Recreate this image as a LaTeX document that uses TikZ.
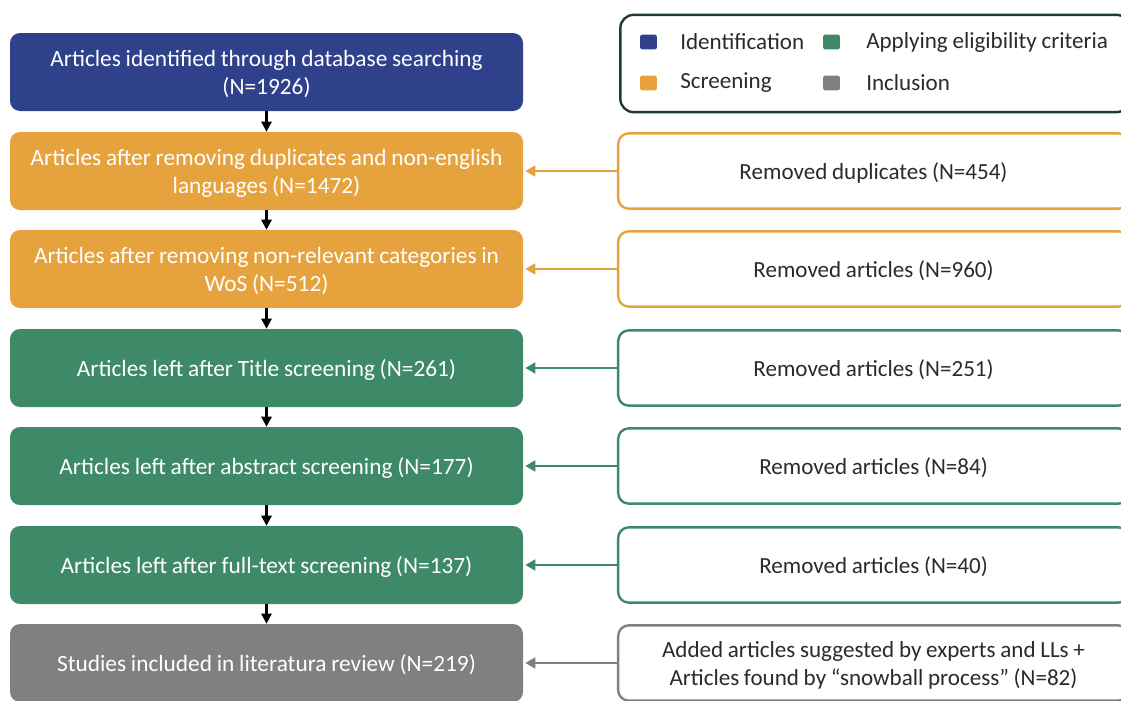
\documentclass[tikz,border=0pt]{standalone}
\usepackage{fontspec}
\setmainfont[WordSpace=0.9]{Carlito}
\usetikzlibrary{arrows.meta}
\definecolor{idblue}{HTML}{2E418A}
\definecolor{scrorange}{HTML}{E6A23C}
\definecolor{eligreen}{HTML}{3E8A68}
\definecolor{incgray}{HTML}{808080}
\definecolor{legframe}{HTML}{1E3B2C}
\definecolor{txtdark}{HTML}{2B2B2B}
\tikzset{
  stagebox/.style={rounded corners=7.5pt, minimum width=384.75pt, minimum height=58.5pt,
    align=center, text=white, font=\fontsize{17.5}{21}\selectfont, inner sep=0pt, text depth=0pt},
  sidebox/.style={rounded corners=8pt, fill=white, line width=1.8pt, minimum width=383pt,
    minimum height=56.5pt, align=center, text=txtdark,
    font=\fontsize{17.3}{21}\selectfont, inner sep=0pt, text depth=0pt},
  flow/.style={line width=2pt, -{Triangle[length=7.5pt,width=7.5pt]}},
  feed/.style={line width=2pt, -{Triangle[length=7.5pt,width=8pt]}, shorten >=1.5pt},
  legsq/.style={rounded corners=1.5pt, minimum width=12.5pt, minimum height=11pt, inner sep=0pt},
  legtxt/.style={anchor=west, text=txtdark, font=\fontsize{17.3}{20}\selectfont, inner sep=0pt},
}
\begin{document}
\begin{tikzpicture}[x=0.75pt, y=-0.75pt]
\useasboundingbox (0,0) rectangle (1121,700);
\clip (0,0) rectangle (1121,700);
\fill[white] (0,0) rectangle (1121,700);

% stages of the review
\node[stagebox, fill=idblue]     (s1) at (266.5,72)  {Articles identified through database searching\\(N=1926)};
\node[stagebox, fill=scrorange]  (s2) at (266.5,171) {Articles after removing duplicates and non-english\\languages (N=1472)};
\node[stagebox, fill=scrorange]  (s3) at (266.5,269) {Articles after removing non-relevant categories in\\WoS (N=512)};
\node[stagebox, fill=eligreen]   (s4) at (266.5,368) {Articles left after Title screening (N=261)};
\node[stagebox, fill=eligreen]   (s5) at (266.5,466) {Articles left after abstract screening (N=177)};
\node[stagebox, fill=eligreen]   (s6) at (266.5,565) {Articles left after full-text screening (N=137)};
\node[stagebox, fill=incgray]    (s7) at (266.5,663) {Studies included in literatura review (N=219)};

% side counts
\node[sidebox, draw=scrorange] (r2) at (873.5,171) {Removed duplicates (N=454)};
\node[sidebox, draw=scrorange] (r3) at (873.5,269) {Removed articles (N=960)};
\node[sidebox, draw=eligreen]  (r4) at (873.5,368) {Removed articles (N=251)};
\node[sidebox, draw=eligreen]  (r5) at (873.5,466) {Removed articles (N=84)};
\node[sidebox, draw=eligreen]  (r6) at (873.5,565) {Removed articles (N=40)};
\node[sidebox, draw=incgray]   (r7) at (873.5,663) {Added articles suggested by experts and LLs +\\Articles found by \textquotedblleft snowball process\textquotedblright\ (N=82)};

% flow between stages
\foreach \a/\b in {s1/s2, s2/s3, s3/s4, s4/s5, s5/s6, s6/s7}
  \draw[flow] (\a.south) -- (\b.north);

% side connectors
\draw[feed, draw=scrorange, fill=scrorange] (r2.west) -- (s2.east);
\draw[feed, draw=scrorange, fill=scrorange] (r3.west) -- (s3.east);
\draw[feed, draw=eligreen, fill=eligreen]   (r4.west) -- (s4.east);
\draw[feed, draw=eligreen, fill=eligreen]   (r5.west) -- (s5.east);
\draw[feed, draw=eligreen, fill=eligreen]   (r6.west) -- (s6.east);
\draw[feed, draw=incgray, fill=incgray]     (r7.west) -- (s7.east);

% legend
\node[draw=legframe, line width=1.8pt, rounded corners=10pt, minimum width=382pt,
      minimum height=73pt, inner sep=0pt] (leg) at (875,63.5) {};
\node[legsq, fill=idblue]    (q1) at (648.5,42) {};
\node[legtxt] (t1) at (680,42) {Identification};
\node[legsq, fill=scrorange] (q2) at (648.5,83) {};
\node[legtxt] (t2) at (680,83) {Screening};
\node[legsq, fill=eligreen]  (q3) at (831.5,42) {};
\node[legtxt] (t3) at (866,42) {Applying eligibility criteria};
\node[legsq, fill=incgray]   (q4) at (831.5,83) {};
\node[legtxt] (t4) at (866,83) {Inclusion};
\end{tikzpicture}
\end{document}
